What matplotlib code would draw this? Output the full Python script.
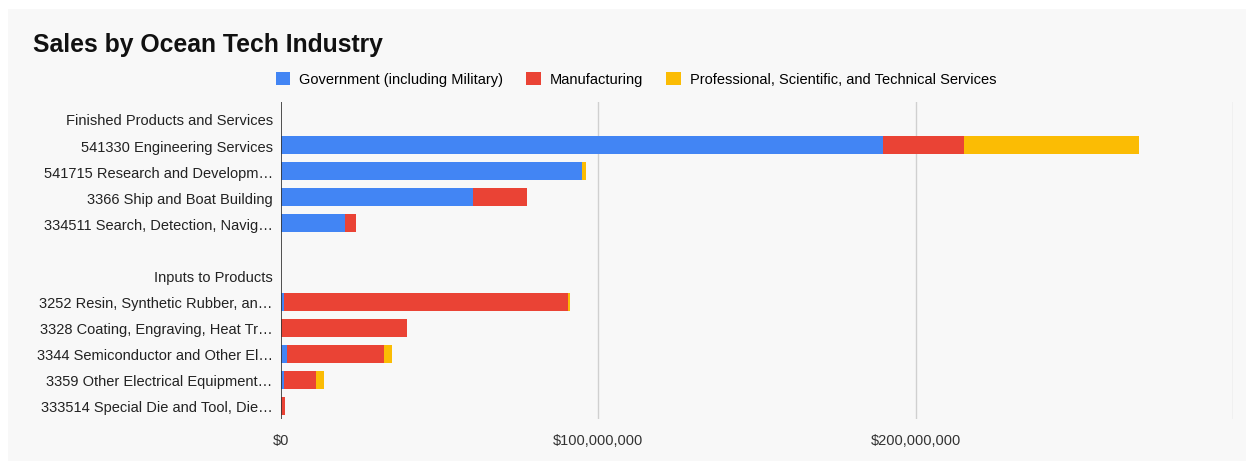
import numpy as np
import matplotlib.pyplot as plt
from matplotlib.patches import Rectangle
from matplotlib.ticker import FuncFormatter

plt.rcParams['font.family'] = ['Liberation Sans', 'DejaVu Sans']

# rows, top to bottom (section headers and the spacer carry no values)
industrias = [
    "Finished Products and Services",
    "541330 Engineering Services",
    "541715 Research and Developm…",
    "3366 Ship and Boat Building",
    "334511 Search, Detection, Navig…",
    "",
    "Inputs to Products",
    "3252 Resin, Synthetic Rubber, an…",
    "3328 Coating, Engraving, Heat Tr…",
    "3344 Semiconductor and Other El…",
    "3359 Other Electrical Equipment…",
    "333514 Special Die and Tool, Die…",
]

# sales in dollars
governo = [0, 189.6e6, 95.0e6, 60.4e6, 20.1e6, 0, 0, 0.8e6, 0, 1.8e6, 0.9e6, 0]
manufatura = [0, 25.5e6, 0, 17.0e6, 3.5e6, 0, 0, 89.6e6, 39.6e6, 30.6e6, 10.0e6, 1.2e6]
servicos = [0, 55.3e6, 1.2e6, 0, 0, 0, 0, 0.8e6, 0, 2.7e6, 2.8e6, 0]

series = ["Government (including Military)", "Manufacturing",
          "Professional, Scientific, and Technical Services"]
cores = ["#4285f4", "#ea4335", "#fbbc04"]

fig = plt.figure(figsize=(12.46, 4.64), dpi=100, facecolor="white")
fig.patches.append(Rectangle((8 / 1246, 0.004), 1 - 8 / 1246, 1 - 10 / 464 - 0.004,
                             transform=fig.transFigure, facecolor="#f8f8f8",
                             edgecolor="none", zorder=-10))

ax = fig.add_axes([281 / 1246, 1 - 420 / 464, (1233 - 281) / 1246, (420 - 103) / 464])
ax.set_facecolor("none")

y = np.arange(len(industrias))
esquerda = np.zeros(len(industrias))
for nome, valores, cor in zip(series, [governo, manufatura, servicos], cores):
    ax.barh(y, valores, left=esquerda, height=0.69, color=cor, label=nome, zorder=3)
    esquerda += np.array(valores)

ax.set_xlim(0, 300e6)
ax.set_ylim(11.5, -0.65)
ax.set_yticks(y)
ax.set_yticklabels(industrias, fontsize=10.5, color="#222222")
ax.set_xticks([0, 100e6, 200e6])
ax.xaxis.set_major_formatter(FuncFormatter(lambda v, p: f"${v:,.0f}"))
ax.tick_params(axis="x", labelsize=10.5, colors="#333333", length=0, pad=10)
ax.tick_params(axis="y", length=0, pad=6)

for v in [100e6, 200e6, 300e6]:
    ax.axvline(v, color="#d0d0d0", linewidth=1, zorder=1)
ax.axvline(0, color="#333333", linewidth=1.2, zorder=4)

for lado in ax.spines.values():
    lado.set_visible(False)

fig.text(33 / 1246, 1 - 45 / 464, "Sales by Ocean Tech Industry", fontsize=17.8,
         fontweight="bold", va="center", ha="left", color="#111111")

fig.legend(loc="center", bbox_to_anchor=(636 / 1246, 1 - 80 / 464), ncol=3,
           frameon=False, fontsize=10.5, handlelength=1.0, handleheight=1.0,
           handletextpad=0.6, columnspacing=1.6)

fig.savefig("out.png", dpi=100, facecolor="white")
